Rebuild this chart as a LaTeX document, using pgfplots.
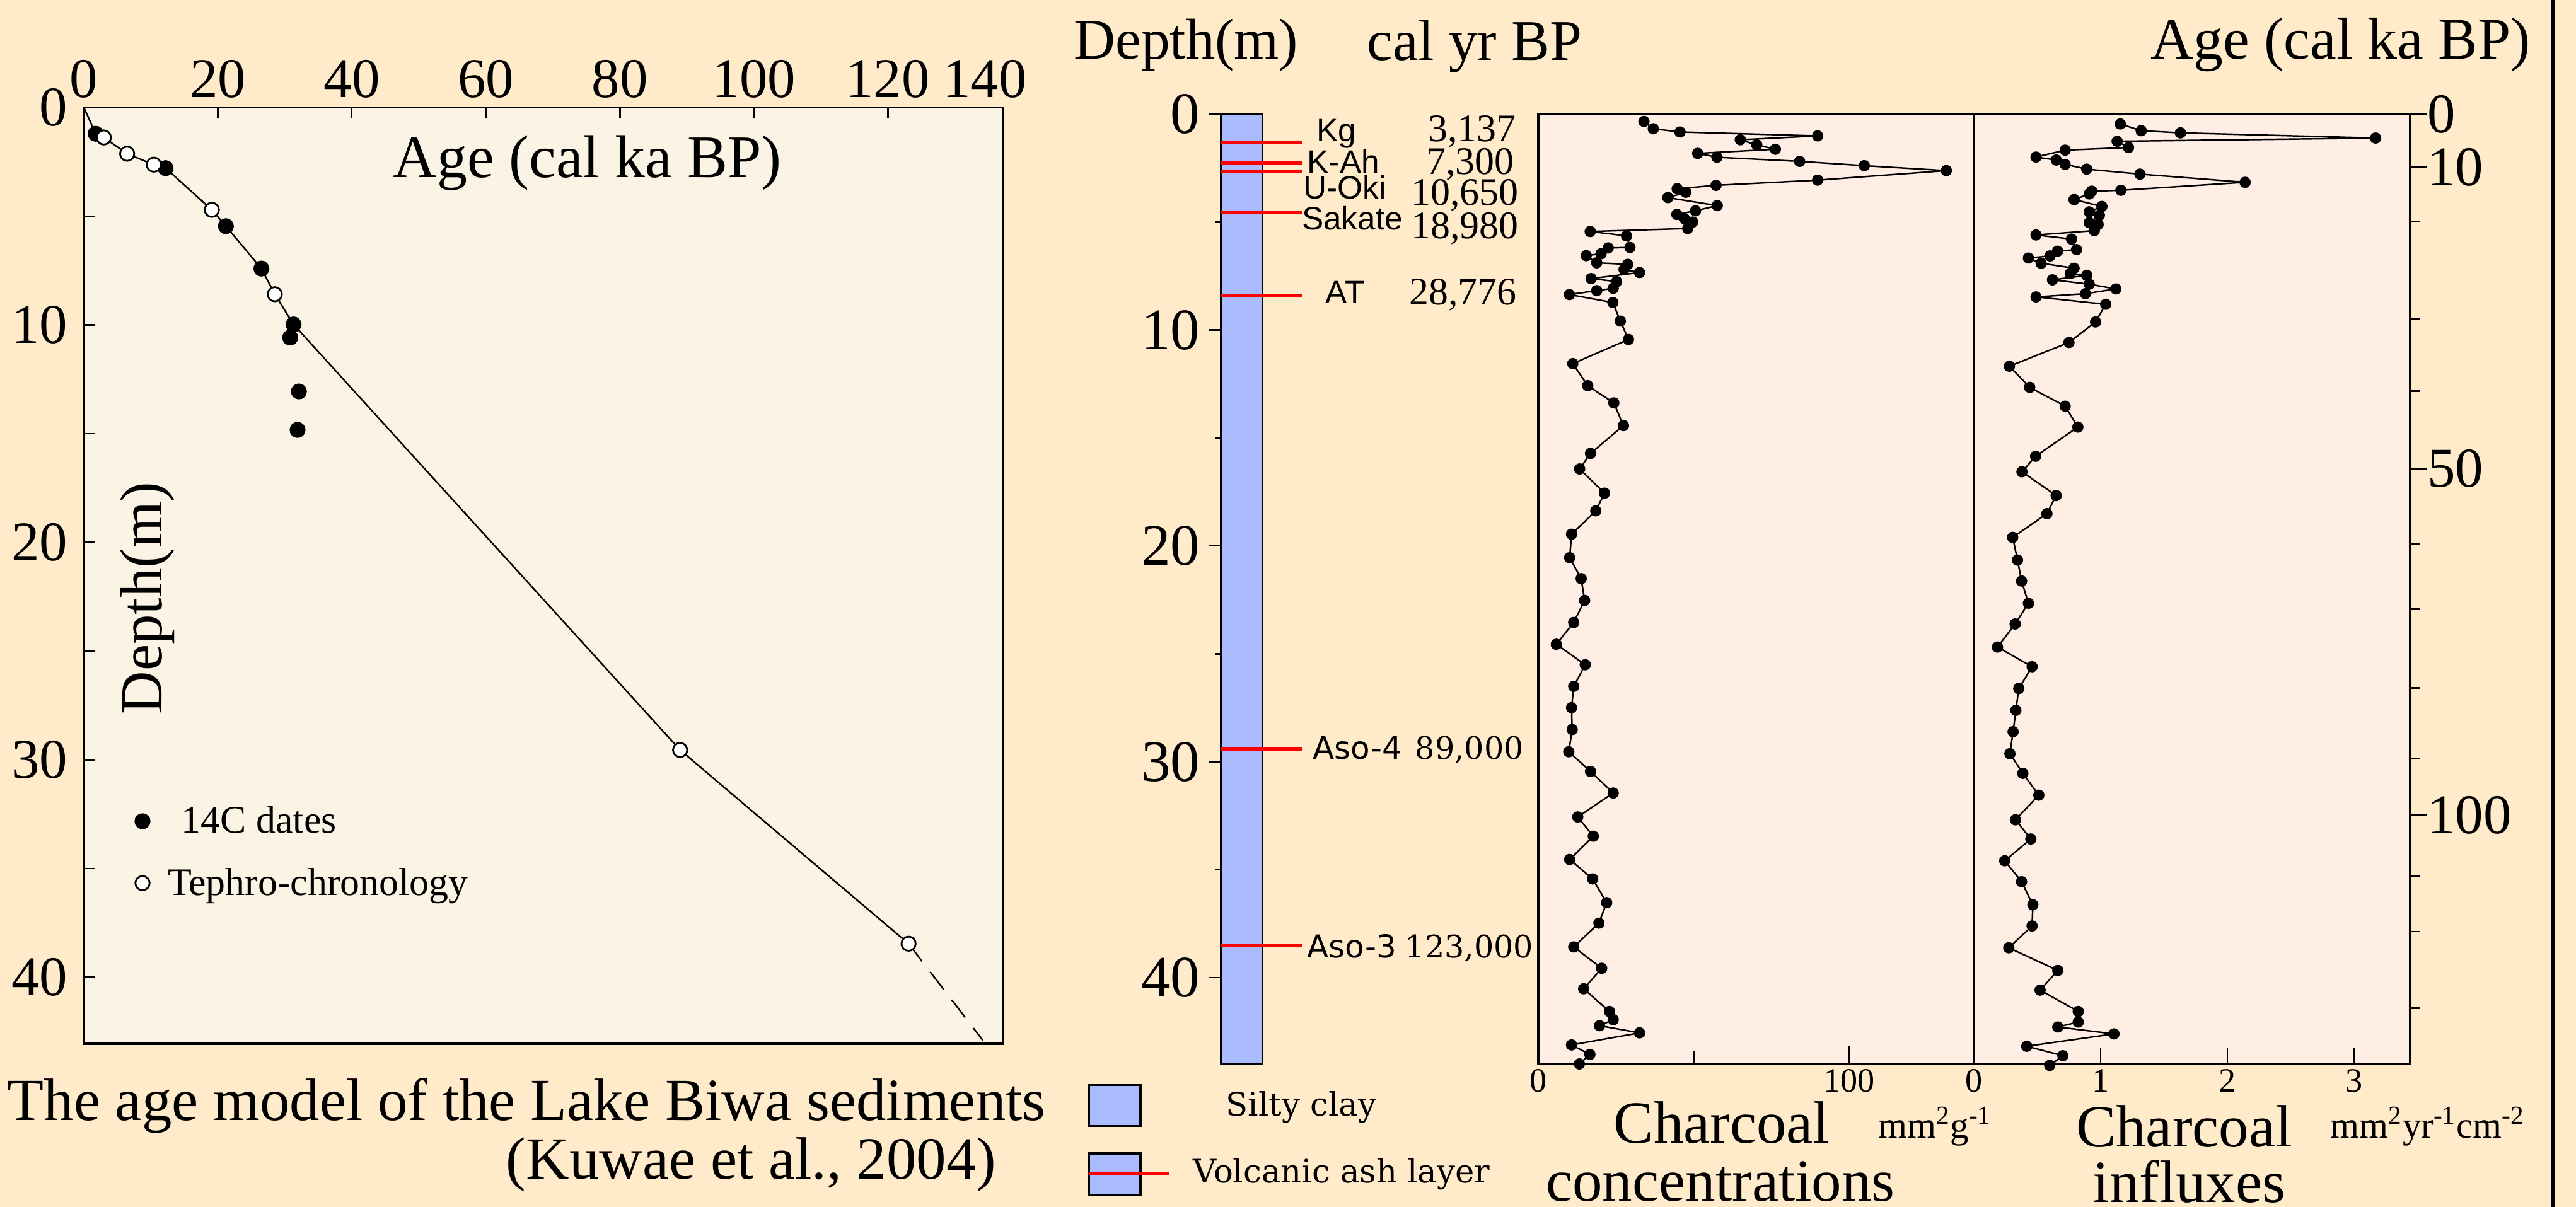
\documentclass[border=0pt]{standalone}
\usepackage{pgfplots}
\pgfplotsset{compat=1.18}
\usepackage{fontspec}
\setmainfont{Liberation Serif}
\newfontfamily\arialf{Liberation Sans}
\newfontfamily\dvsans{DejaVu Sans}
\newfontfamily\dvserif{DejaVu Serif}
\newcommand{\fs}[1]{\fontsize{#1}{#1}\selectfont}

\definecolor{bgc}{HTML}{FFEBC9}
\definecolor{plotbg}{HTML}{FBF3E4}
\definecolor{panelbg}{HTML}{FFEEE4}
\definecolor{barblue}{HTML}{AABBFF}

\pgfplotsset{
  /pgf/number format/assume math mode=true,
  every axis/.append style={scale only axis, clip=false,
    tick style={black, line width=0.8pt}},
}

\begin{document}
\begin{tikzpicture}
\fill[bgc] (0,0) rectangle (40.86,19.15);
\draw[line width=1.5pt] (40.50,0) -- (40.50,19.15);

% ---------- age model ----------
\begin{axis}[
  at={(1.33cm,2.59cm)}, anchor=south west,
  width=14.58cm, height=14.855cm,
  xmin=0, xmax=137.2, ymin=0, ymax=43.06, y dir=reverse,
  axis background/.style={fill=plotbg},
  axis line style={line width=1pt},
  xtick={0,20,...,120}, xtick pos=upper, xticklabel pos=upper,
  ytick={0,5,...,40}, yticklabels={0,,10,,20,,30,,40}, ytick pos=left,
  tick align=inside, major tick length=0.17cm,
  ticklabel style={font=\fs{25.3pt}},
  xticklabel style={inner sep=0pt, yshift=0.145cm},
  yticklabel style={inner sep=0pt, xshift=-0.25cm},
  legend cell align=left,
  legend style={at={(axis description cs:0.0556,0.2046)}, anchor=west,
    draw=none, fill=none, inner sep=0pt, outer sep=0pt,
    font=\fs{17.6pt}, row sep=0.36cm},
]
\addplot[black, line width=0.7pt, forget plot] coordinates {
  (0,0) (1.77,1.21) (2.98,1.38) (6.46,2.13) (10.44,2.63) (12.2,2.79)
  (19.1,4.71) (21.2,5.46) (26.5,7.41) (28.5,8.59) (31.3,9.98)
  (89.0,29.55) (123.1,38.46)};
\addplot[black, line width=0.7pt, dash pattern=on 10pt off 6pt, forget plot]
  coordinates {(123.1,38.46) (134.2,42.91)};
\addplot[only marks, mark=*, mark size=3.4pt,
  mark options={fill=black, draw=black}] coordinates {
  (1.77,1.21) (12.2,2.79) (21.2,5.46) (26.5,7.41) (31.3,9.98)
  (30.8,10.58) (32.1,13.06) (31.9,14.83)};
\addlegendentry{\hspace{0.43cm}14C dates}
\addplot[only marks, mark=*, mark size=3.2pt,
  mark options={fill=white, draw=black, line width=0.8pt}] coordinates {
  (2.98,1.38) (6.46,2.13) (10.44,2.63) (19.1,4.71) (28.5,8.59)
  (89.0,29.55) (123.1,38.46)};
\addlegendentry{\hspace{0.21cm}Tephro-chronology}
\node[anchor=base, font=\fs{27.3pt}] at (axis description cs:0.5477,0.9256) {Age (cal ka BP)};
\node[anchor=base, rotate=90, font=\fs{27pt}] at (axis description cs:0.085,0.476) {Depth(m)};
\end{axis}

% ---------- lithology column ----------
\begin{axis}[
  at={(19.37cm,2.27cm)}, anchor=south west,
  width=0.655cm, height=15.07cm,
  xmin=0, xmax=1, ymin=0, ymax=44, y dir=reverse,
  axis background/.style={fill=barblue},
  axis line style={line width=1pt},
  xtick=\empty,
  ytick={0,10,...,40}, minor ytick={5,15,...,35}, ytick pos=left,
  tick align=outside, major tick length=0.2cm, minor tick length=0.1cm,
  yticklabel style={font=\fs{26.5pt}, inner sep=0pt, xshift=-0.13cm},
]
% volcanic ash layers (depth in m)
\addplot[red, line width=1.5pt] coordinates {(0,1.32) (1.947,1.32)};
\addplot[red, line width=1.5pt] coordinates {(0,2.28) (1.947,2.28)};
\addplot[red, line width=1.5pt] coordinates {(0,2.64) (1.947,2.64)};
\addplot[red, line width=1.5pt] coordinates {(0,4.53) (1.947,4.53)};
\addplot[red, line width=1.5pt] coordinates {(0,8.43) (1.947,8.43)};
\addplot[red, line width=1.5pt] coordinates {(0,29.4) (1.947,29.4)};
\addplot[red, line width=1.5pt] coordinates {(0,38.5) (1.947,38.5)};
\end{axis}

% ---------- charcoal concentrations ----------
\begin{axis}[
  at={(24.40cm,2.27cm)}, anchor=south west,
  width=6.91cm, height=15.07cm,
  xmin=0, xmax=140.2, ymin=0, ymax=44, y dir=reverse,
  axis background/.style={fill=panelbg},
  axis line style={line width=0.9pt},
  ytick=\empty,
  xtick={0,100}, minor xtick={50}, xtick pos=lower,
  tick align=inside, major tick length=0.29cm, minor tick length=0.2cm,
  xticklabel style={font=\fs{15.4pt}, inner sep=0pt, yshift=-0.08cm},
]
\addplot[black, line width=0.7pt, mark=*, mark size=2.2pt] coordinates {
  (34.0,0.34) (37.0,0.68) (45.6,0.83) (89.9,1.01) (65.0,1.19) (70.3,1.43)
  (76.3,1.63) (51.3,1.82) (57.5,2.00) (84.1,2.19) (104.9,2.39) (131.3,2.62)
  (89.9,3.06) (57.2,3.30) (44.7,3.46) (47.5,3.62) (41.7,3.87) (57.6,4.24)
  (50.6,4.48) (44.6,4.65) (47.0,4.84) (49.7,5.00) (48.1,5.30) (16.7,5.44)
  (28.4,5.64) (29.5,6.18) (22.5,6.20) (20.2,6.47) (15.4,6.56) (18.8,6.89)
  (28.8,6.96) (27.6,7.20) (32.6,7.34) (17.0,7.62) (25.2,7.76) (24.1,8.07)
  (18.8,8.18) (10.0,8.36) (24.0,8.73) (26.4,9.59) (29.0,10.44) (11.1,11.56)
  (15.9,12.58) (24.3,13.38) (27.4,14.43) (16.8,15.72) (13.3,16.44) (21.3,17.56)
  (18.5,18.38) (10.7,19.46) (10.1,20.55) (13.8,21.52) (14.9,22.53) (11.4,23.55)
  (5.8,24.56) (15.1,25.51) (11.4,26.51) (10.7,27.50) (10.9,28.51) (9.8,29.54)
  (16.8,30.45) (24.1,31.45) (12.7,32.56) (17.7,33.45) (10.1,34.53) (17.5,35.43)
  (22.0,36.53) (19.5,37.48) (11.4,38.58) (20.4,39.57) (14.6,40.52) (22.9,41.57)
  (24.1,41.95) (19.7,42.23) (32.6,42.56) (10.7,43.12) (16.6,43.56) (13.2,44.0)};
\end{axis}

% ---------- charcoal influxes ----------
\begin{axis}[
  at={(31.31cm,2.27cm)}, anchor=south west,
  width=6.916cm, height=15.07cm,
  xmin=0, xmax=3.441, ymin=0, ymax=44, y dir=reverse,
  axis background/.style={fill=panelbg},
  axis line style={line width=0.9pt},
  ytick=\empty,
  xtick={0,1,2,3}, xtick pos=lower,
  tick align=inside, major tick length=0.25cm,
  xticklabel style={font=\fs{15.4pt}, inner sep=0pt, yshift=-0.08cm},
]
\addplot[black, line width=0.7pt, mark=*, mark size=2.2pt] coordinates {
  (1.155,0.46) (1.32,0.77) (1.63,0.87) (3.17,1.11) (1.13,1.26) (1.22,1.55)
  (0.72,1.67) (0.49,1.99) (0.65,2.13) (0.72,2.33) (0.89,2.55) (1.31,2.78)
  (2.14,3.16) (1.16,3.53) (0.93,3.57) (0.91,3.70) (0.79,3.96) (1.01,4.28)
  (0.91,4.53) (0.99,4.69) (0.91,5.03) (0.98,5.11) (0.95,5.40) (0.49,5.60)
  (0.77,5.79) (0.81,6.28) (0.66,6.35) (0.60,6.57) (0.43,6.67) (0.53,6.91)
  (0.79,7.14) (0.76,7.39) (0.89,7.47) (0.62,7.68) (0.91,7.88) (1.12,8.10)
  (0.88,8.32) (0.49,8.47) (1.04,8.81) (0.96,9.63) (0.75,10.58) (0.28,11.68)
  (0.44,12.66) (0.72,13.53) (0.82,14.50) (0.487,15.85) (0.379,16.57) (0.649,17.67)
  (0.576,18.51) (0.306,19.61) (0.344,20.66) (0.376,21.63) (0.43,22.66) (0.325,23.62)
  (0.186,24.69) (0.459,25.60) (0.354,26.61) (0.331,27.62) (0.309,28.61) (0.284,29.63)
  (0.386,30.54) (0.512,31.55) (0.328,32.69) (0.449,33.58) (0.243,34.59) (0.376,35.56)
  (0.465,36.63) (0.459,37.61) (0.275,38.62) (0.662,39.67) (0.522,40.58) (0.823,41.57)
  (0.823,42.06) (0.662,42.29) (1.105,42.61) (0.417,43.18) (0.702,43.62) (0.598,44.07)};
\end{axis}

% age scale (cal ka BP) on the right, placed at the model depths
\begin{axis}[
  at={(31.31cm,2.27cm)}, anchor=south west,
  width=6.916cm, height=15.07cm,
  xmin=0, xmax=3.441, ymin=0, ymax=44, y dir=reverse,
  hide x axis, axis y line*=right,
  axis line style={line width=0.9pt},
  ytick={0,2.45,16.42,32.48}, yticklabels={0,10,50,100},
  minor ytick={4.98,9.48,12.84,19.89,22.94,26.59,29.87,35.29,37.87,41.42},
  tick align=outside, major tick length=0.27cm, minor tick length=0.15cm,
  yticklabel style={font=\fs{25.3pt}, inner sep=0pt},
]
\end{axis}

% ---------- text ----------
\node[anchor=south, inner sep=0pt, font=\fs{25.3pt}] at (15.62,17.59) {140};
\node[anchor=base west, inner sep=0pt, font=\fs{27pt}] at (0.11,1.37) {The age model of the Lake Biwa sediments};
\node[anchor=base east, inner sep=0pt, font=\fs{27pt}] at (15.81,0.44) {(Kuwae et al., 2004)};

\node[anchor=base west, inner sep=0pt, font=\fs{26pt}] at (17.03,18.21) {Depth(m)};
\node[anchor=base west, inner sep=0pt, font=\fs{26pt}] at (21.68,18.19) {cal yr BP};
\node[anchor=base west, inner sep=0pt, font=\fs{26.7pt}] at (34.11,18.21) {Age (cal ka BP)};

\begin{scope}[every node/.style={inner sep=0pt, font=\arialf\fs{14.6pt}, anchor=base west}]
\node at (20.875,16.90) {Kg};
\node at (20.73,16.405) {K-Ah};
\node at (20.67,15.99) {U-Oki};
\node at (20.645,15.50) {Sakate};
\node at (21.02,14.33) {AT};
\end{scope}
\begin{scope}[every node/.style={inner sep=0pt, font=\fs{17.6pt}, anchor=base east}]
\node at (24.05,16.90) {3,137};
\node at (24.02,16.38) {7,300};
\node at (24.09,15.89) {10,650};
\node at (24.09,15.36) {18,980};
\node at (24.06,14.31) {28,776};
\end{scope}
\node[anchor=base west, inner sep=0pt, font=\dvsans\fs{14.2pt}] at (20.82,7.10) {Aso-4};
\node[anchor=base west, inner sep=0pt, font=\dvserif\fs{14pt}] at (22.44,7.10) {89,000};
\node[anchor=base west, inner sep=0pt, font=\dvsans\fs{14.2pt}] at (20.73,3.95) {Aso-3};
\node[anchor=base west, inner sep=0pt, font=\dvserif\fs{14pt}] at (22.28,3.95) {123,000};

% legend of the column
\draw[fill=barblue, line width=0.9pt] (17.275,1.282) rectangle (18.09,1.933);
\draw[fill=barblue, line width=0.9pt] (17.275,0.19) rectangle (18.09,0.85);
\draw[red, line width=1.5pt] (17.275,0.522) -- (18.55,0.522);
\node[anchor=base west, inner sep=0pt, font=\dvserif\fs{14.6pt}] at (19.44,1.44) {Silty clay};
\node[anchor=base west, inner sep=0pt, font=\dvserif\fs{14.6pt}] at (18.92,0.38) {Volcanic ash layer};

\node[anchor=base west, inner sep=0pt, font=\fs{27pt}] at (25.59,1.01) {Charcoal};
\node[anchor=base west, inner sep=0pt, font=\fs{27pt}] at (24.516,0.09) {concentrations};
\node[anchor=base west, inner sep=0pt, font=\fs{16.8pt}] at (29.785,1.09) {mm\textsuperscript{2}g\textsuperscript{-1}};
\node[anchor=base west, inner sep=0pt, font=\fs{27pt}] at (32.925,0.954) {Charcoal};
\node[anchor=base west, inner sep=0pt, font=\fs{27pt}] at (33.19,0.07) {influxes};
\node[anchor=base west, inner sep=0pt, font=\fs{16.8pt}] at (36.96,1.09) {mm\textsuperscript{2}yr\textsuperscript{-1}cm\textsuperscript{-2}};

\pgfresetboundingbox
\path[use as bounding box] (0,0) rectangle (40.86,19.15);
\end{tikzpicture}
\end{document}
